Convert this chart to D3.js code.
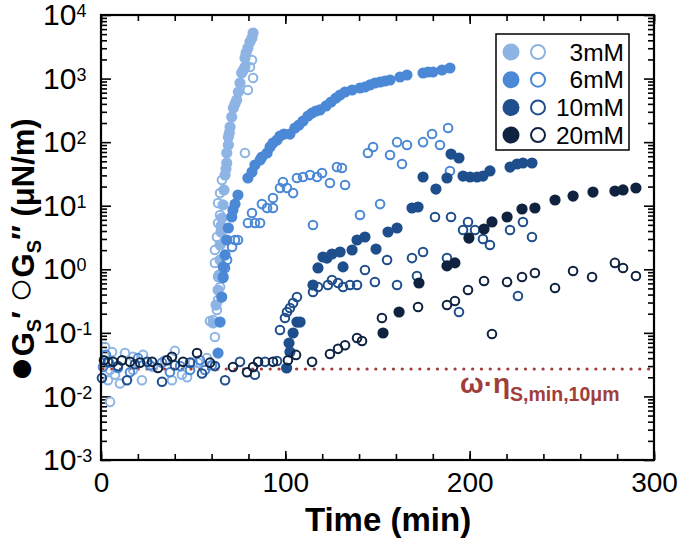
<!DOCTYPE html>
<html>
<head>
<meta charset="utf-8">
<script src="https://cdn.jsdelivr.net/npm/d3@7"></script>
<style>
body { margin: 0; background: #fff; }
svg { display: block; font-family: "Liberation Sans", Arial, sans-serif; }
</style>
</head>
<body>
<div class="chart"></div>
<script>
// [time (min), modulus (uN/m)]
var g1_3mM = [[60.8,0.143],[62.4,0.274],[63.5,0.472],[64.0,0.81],[64.6,1.40],[64.6,2.41],[65.1,3.86],[65.1,4.8],[65.6,6.41],[66.2,10.3],[66.7,17.7],[67.3,30.4],[67.8,38],[68.2,47],[68.2,67.5],[69.1,90],[69.1,120],[69.6,140],[70.0,173],[70.9,248],[71.8,344],[72.7,400],[73.6,460],[74.5,615],[75.4,851],[76.3,1224],[77.2,1350],[78.1,1520],[78.1,2107],[78.7,2523],[79.7,3027],[80.8,3760],[81.9,4350],[82.5,5210]];
var g2_3mM = [[2.2,0.060],[3.8,0.018],[4.9,0.026],[4.9,0.0082],[6.0,0.050],[7.6,0.022],[10.3,0.016],[13.0,0.048],[17.4,0.042],[17.4,0.026],[22.2,0.018],[22.8,0.045],[28.2,0.029],[34.7,0.037],[38.5,0.018],[40.1,0.052],[43.9,0.022],[46.7,0.020],[49.9,0.034],[52.6,0.034],[57.5,0.040],[59.1,0.153],[60.8,0.159],[61.8,0.086],[62.9,0.229],[63.5,0.329],[64.6,0.526],[63.5,0.757],[61.8,1.26],[61.8,2.01],[62.9,3.22],[63.5,5.35],[64.6,7.14],[63.5,11.0],[64.6,15.8],[65.6,25.4],[78.1,67.5],[79.7,661],[82.5,1021],[80.8,1520],[81.9,1960]];

var g1_6mM = [[63.5,0.048],[64.6,0.148],[65.5,0.366],[66.3,0.757],[66.3,1.09],[67.3,1.68],[68.2,2.89],[69.1,4.46],[70.9,6.64],[71.6,8.56],[72.7,10.6],[74.3,14.7],[79.7,27.3],[81.9,33.9],[83.5,43.7],[86.3,52.4],[87.3,58.4],[90.1,67.5],[91.7,84],[93.3,96.9],[95.5,108],[97.1,125],[99.3,134],[102.5,134],[105.2,167],[107.4,186],[109.6,215],[112.3,258],[114.5,287],[116.6,309],[118.8,321],[122.1,371],[124.8,428],[127.5,494],[129.7,552],[132.4,615],[136.2,661],[140.5,711],[143.2,737],[145.9,793],[148.6,852],[151.4,883],[154.1,916],[156.8,949],[162.2,1059],[166.0,1138],[174.7,1224],[177.4,1269],[180.1,1269],[185.0,1363],[189.3,1466]];
var g2_6mM = [[1.1,0.029],[2.7,0.045],[4.3,0.034],[9.2,0.028],[15.7,0.024],[20.1,0.040],[26.6,0.031],[33.1,0.034],[37.4,0.024],[42.9,0.030],[48.3,0.026],[53.7,0.037],[56.4,0.026],[60.2,0.031],[66.2,0.729],[67.3,1.05],[68.4,1.40],[71.1,2.24],[72.7,2.89],[74.3,2.89],[79.7,5.35],[83.5,5.35],[81.9,7.68],[86.3,5.35],[87.3,10.6],[90.1,9.2],[93.3,9.2],[93.3,13.2],[97.1,19.0],[98.7,23.6],[100.9,19.0],[104.2,15.8],[106.3,27.3],[109.6,28.3],[113.4,30.4],[117.2,28.3],[119.9,32.7],[124.2,22.8],[115.0,4.97],[128.0,40.6],[130.7,39.2],[132.4,21.2],[140.5,7.14],[144.8,67.5],[147.6,84],[151.4,10.6],[156.8,62.8],[160.6,100],[163.3,45.3],[166.0,90],[174.7,100],[179.6,134],[183.9,90],[188.3,167],[189.3,35.2]];

var g1_10mM = [[100.7,0.028],[102.5,0.050],[102.0,0.069],[104.2,0.0995],[106.3,0.148],[108.0,0.148],[115.0,0.566],[117.7,1.05],[120.4,1.56],[122.6,1.50],[125.3,1.74],[129.7,1.87],[131.3,1.09],[136.2,2.01],[138.9,2.89],[143.2,3.22],[149.2,2.08],[155.7,3.86],[160.6,4.46],[168.7,9.2],[172.0,9.55],[174.7,28.3],[181.7,18.3],[187.7,27.3],[189.9,65],[194.2,56.3],[196.4,29.3],[200.2,28.3],[204.0,28.3],[207.2,29.3],[211.0,35.2],[221.9,40.6],[225.7,45.3],[228.9,47],[233.8,47]];
var g2_10mM = [[0.5,0.0195],[3.8,0.035],[9.2,0.030],[14.1,0.018],[18.4,0.032],[25.0,0.035],[33.1,0.017],[40.1,0.031],[48.3,0.034],[54.8,0.023],[61.8,0.030],[67.3,0.018],[75.4,0.035],[83.5,0.022],[89.0,0.035],[95.5,0.036],[97.1,0.111],[99.8,0.171],[100.9,0.213],[102.5,0.246],[104.2,0.295],[106.3,0.366],[115.0,0.44],[117.7,0.526],[123.1,0.566],[125.3,0.678],[128.6,0.608],[131.3,0.526],[135.1,0.566],[138.9,0.566],[143.2,0.975],[148.6,0.631],[155.2,1.40],[160.6,0.566],[168.7,1.50],[171.4,0.784],[174.7,1.87],[181.2,6.64],[187.7,1.50],[189.9,6.64],[194.2,0.213],[196.4,4.15],[199.1,5.55],[202.9,4.15],[207.2,2.99],[211.0,2.41],[221.9,4.15],[226.2,0.38],[228.9,5.55],[233.8,3.22]];

var g1_20mM = [[153.0,0.0995],[161.7,0.213],[172.5,0.608],[187.7,1.13],[192.0,1.26],[199.6,3.10],[207.8,4.30],[212.1,5.55],[220.3,6.64],[228.4,8.87],[235.4,9.2],[246.3,12.3],[256.1,14.2],[266.9,16.4],[278.8,17.0],[283.2,17.7],[290.2,19.0]];
var g2_20mM = [[1.6,0.037],[6.5,0.035],[11.4,0.037],[15.7,0.035],[21.2,0.034],[27.7,0.035],[30.9,0.028],[35.8,0.037],[38.5,0.042],[44.5,0.035],[52.1,0.048],[59.1,0.034],[71.6,0.029],[79.2,0.024],[82.5,0.029],[85.2,0.035],[93.3,0.035],[101.4,0.037],[105.8,0.045],[114.5,0.035],[124.2,0.0465],[128.6,0.056],[132.4,0.064],[138.9,0.083],[141.6,0.0745],[152.4,0.171],[172.0,0.255],[187.7,0.274],[192.0,0.317],[199.1,0.472],[207.8,0.654],[212.1,0.096],[220.3,0.631],[228.4,0.757],[235.4,0.875],[246.3,0.508],[256.1,0.94],[266.4,0.757],[278.8,1.26],[283.2,1.05],[290.2,0.784]];

var concLabels = ["3mM", "6mM", "10mM", "20mM"];
var concColors = ["#8db4e4", "#4b88d6", "#1f4e8c", "#0f223f"];
var storage = [g1_3mM, g1_6mM, g1_10mM, g1_20mM];
var loss = [g2_3mM, g2_6mM, g2_10mM, g2_20mM];
var viscLimit = 0.027;

var xMajor = [0, 100, 200, 300];
var yMajor = [1e-3, 1e-2, 1e-1, 1, 10, 100, 1000, 10000];

var svgW = 680, svgH = 539;
var pLeft = 101, pRight = 654, pTop = 15, pBottom = 460;

var svg = d3.select(".chart").append("svg")
    .attr("width", svgW)
    .attr("height", svgH);

svg.append("rect").attr("width", svgW).attr("height", svgH).attr("fill", "#fff");

var xLS = d3.scaleLinear().domain([0, 300]).range([pLeft, pRight]);
var yLS = d3.scaleLog().domain([1e-3, 1e4]).range([pBottom, pTop]);

// minor log ticks
var yMinor = [];
for (var k = -3; k < 4; k++) {
    for (var d = 2; d < 10; d++) yMinor.push(d * Math.pow(10, k));
}
var xMinor = d3.range(0, 301, 20);

function noDomain(g) { g.select(".domain").remove(); g.selectAll("line").attr("stroke", "#000").attr("stroke-width", 1.6); }

// bottom
svg.append("g").attr("transform", "translate(0," + pBottom + ")")
    .call(d3.axisBottom(xLS).tickValues(xMinor).tickSize(-6).tickFormat(""))
    .call(noDomain);
var bAxis = svg.append("g").attr("class", "x-axis").attr("transform", "translate(0," + pBottom + ")")
    .call(d3.axisBottom(xLS).tickValues(xMajor).tickSize(-9).tickPadding(12).tickFormat(d3.format("d")))
    .call(noDomain);
bAxis.selectAll("text").attr("font-size", 28).attr("fill", "#000").attr("font-family", null);

// top
svg.append("g").attr("transform", "translate(0," + pTop + ")")
    .call(d3.axisTop(xLS).tickValues(xMinor).tickSize(-6).tickFormat(""))
    .call(noDomain);
svg.append("g").attr("transform", "translate(0," + pTop + ")")
    .call(d3.axisTop(xLS).tickValues(xMajor).tickSize(-9).tickFormat(""))
    .call(noDomain);

// left
svg.append("g").attr("transform", "translate(" + pLeft + ",0)")
    .call(d3.axisLeft(yLS).tickValues(yMinor).tickSize(-6).tickFormat(""))
    .call(noDomain);
var lAxis = svg.append("g").attr("class", "y-axis").attr("transform", "translate(" + pLeft + ",0)")
    .call(d3.axisLeft(yLS).tickValues(yMajor).tickSize(-10))
    .call(noDomain);
lAxis.selectAll(".tick text").each(function(v) {
    var t = d3.select(this);
    t.text(null)
        .attr("x", -58)
        .attr("text-anchor", "start")
        .attr("font-size", 30)
        .attr("font-family", null)
        .attr("fill", "#000");
    t.append("tspan").text("10");
    t.append("tspan").attr("dy", -8).attr("font-size", 18).text(Math.round(Math.log10(v)));
});

// right
svg.append("g").attr("transform", "translate(" + pRight + ",0)")
    .call(d3.axisRight(yLS).tickValues(yMinor).tickSize(-6).tickFormat(""))
    .call(noDomain);
svg.append("g").attr("transform", "translate(" + pRight + ",0)")
    .call(d3.axisRight(yLS).tickValues(yMajor).tickSize(-10).tickFormat(""))
    .call(noDomain);

// dotted limit line
svg.append("line")
    .attr("x1", xLS(0) + 2).attr("x2", xLS(300))
    .attr("y1", yLS(viscLimit)).attr("y2", yLS(viscLimit))
    .attr("stroke", "#a23e3a")
    .attr("stroke-width", 3.2)
    .attr("stroke-linecap", "round")
    .attr("stroke-dasharray", "0.1 8.7");

// points
var Chrt = svg.append("g");
concLabels.forEach(function(c, i) {
    Chrt.append("g").selectAll("circle")
        .data(storage[i])
        .enter()
        .append("circle")
        .attr("cx", function(p) { return xLS(p[0]); })
        .attr("cy", function(p) { return yLS(p[1]); })
        .attr("r", 5.6)
        .attr("fill", concColors[i]);
    Chrt.append("g").selectAll("circle")
        .data(loss[i])
        .enter()
        .append("circle")
        .attr("cx", function(p) { return xLS(p[0]); })
        .attr("cy", function(p) { return yLS(p[1]); })
        .attr("r", 4.3)
        .attr("fill", "none")
        .attr("stroke", concColors[i])
        .attr("stroke-width", 2);
});

// frame
svg.append("rect")
    .attr("x", pLeft).attr("y", pTop)
    .attr("width", pRight - pLeft).attr("height", pBottom - pTop)
    .attr("fill", "none")
    .attr("stroke", "#000")
    .attr("stroke-width", 2.2);

// limit label
var lim = svg.append("text")
    .attr("x", 460).attr("y", 393)
    .attr("fill", "#a23e3a")
    .attr("font-weight", "bold")
    .attr("font-size", 28);
lim.append("tspan").text("ω·η");
lim.append("tspan").attr("font-size", 19.5).attr("dy", 8).text("S,min,10μm");

// legend
var legend = svg.append("g");
legend.append("rect")
    .attr("x", 496).attr("y", 34).attr("width", 133).attr("height", 116)
    .attr("fill", "#fff").attr("stroke", "#000").attr("stroke-width", 1.5);
concLabels.forEach(function(c, i) {
    var ly = 52 + i * 27.7;
    legend.append("circle").attr("cx", 511).attr("cy", ly).attr("r", 8.5).attr("fill", concColors[i]);
    legend.append("circle").attr("cx", 538).attr("cy", ly).attr("r", 7)
        .attr("fill", "none").attr("stroke", concColors[i]).attr("stroke-width", 2);
    legend.append("text").attr("x", 624).attr("y", ly + 8.5)
        .attr("text-anchor", "end").attr("font-size", 24.5).text(c);
});

// axis titles
svg.append("text")
    .attr("x", 388).attr("y", 531)
    .attr("text-anchor", "middle")
    .attr("font-weight", "bold")
    .attr("font-size", 33)
    .text("Time (min)");

var yt = svg.append("text")
    .attr("transform", "translate(34,250) rotate(-90)")
    .attr("text-anchor", "middle")
    .attr("font-weight", "bold")
    .attr("font-size", 31);
yt.append("tspan").attr("font-size", 42).text("●");
yt.append("tspan").text("G");
yt.append("tspan").attr("font-size", 20).attr("dy", 7).text("S");
yt.append("tspan").attr("dy", -7).text("′ ");
yt.append("tspan").attr("font-size", 42).text("○");
yt.append("tspan").text("G");
yt.append("tspan").attr("font-size", 20).attr("dy", 7).text("S");
yt.append("tspan").attr("dy", -7).text("″ (μN/m)");
</script>
</body>
</html>
